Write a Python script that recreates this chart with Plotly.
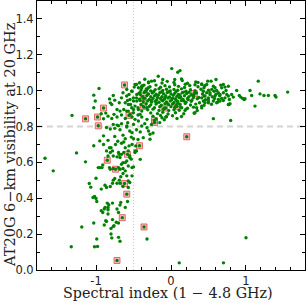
import plotly.graph_objects as go

# ---------------- data (spectral index, visibility) ----------------
outliers = [(-1.68, 0.623), (-1.57, 0.553), (-1.26, 0.653), (-1.14, 0.603), (-1.32, 0.862),
            (-1.33, 0.130), (-1.19, 0.240), (-1.03, 0.262), (-1.02, 0.130), (-0.99, 0.173),
            (-0.98, 0.131), (-1.09, 0.482), (-1.07, 0.462), (-1.04, 0.404), (-1.02, 0.410),
            (-1.00, 0.399), (-0.99, 0.382), (-1.00, 0.512), (-1.03, 0.693), (-0.32, 0.173),
            (0.11, 0.040), (0.70, 0.040), (1.00, 0.180)]

plume = [(-0.85, 0.373), (-0.83, 0.364), (-0.84, 0.349), (-0.84, 0.336), (-0.93, 0.330),
         (-0.91, 0.321), (-0.88, 0.349), (-0.84, 0.312), (-0.78, 0.373), (-0.68, 0.362),
         (-0.72, 0.340), (-0.70, 0.321), (-0.58, 0.382), (-0.89, 0.251), (-0.86, 0.271),
         (-0.80, 0.232), (-0.77, 0.243), (-0.78, 0.281), (-0.70, 0.262), (-0.80, 0.201),
         (-0.79, 0.179), (-0.70, 0.182), (-0.68, 0.160), (-0.84, 0.723), (-0.61, 0.732),
         (-0.63, 0.714), (-0.66, 0.707), (-0.50, 0.732), (-0.56, 0.692), (-0.57, 0.664),
         (-0.47, 0.692), (-0.46, 0.664), (-0.86, 0.664), (-0.81, 0.655), (-0.80, 0.682),
         (-0.84, 0.636), (-0.77, 0.636), (-0.69, 0.645), (-0.68, 0.627), (-0.66, 0.645),
         (-0.63, 0.655), (-0.59, 0.608), (-0.64, 0.599), (-0.61, 0.599), (-0.57, 0.580),
         (-0.52, 0.571), (-0.53, 0.618), (-0.50, 0.575), (-0.97, 0.571), (-0.95, 0.571),
         (-0.92, 0.571), (-0.82, 0.571), (-0.81, 0.562), (-0.77, 0.566), (-0.70, 0.571),
         (-0.68, 0.562), (-0.64, 0.566), (-0.88, 0.473), (-0.86, 0.460), (-0.81, 0.466),
         (-0.78, 0.484), (-0.75, 0.510), (-0.69, 0.501), (-0.68, 0.484), (-0.59, 0.525),
         (-0.57, 0.497), (-0.55, 0.488), (-0.57, 0.460), (-0.64, 0.466), (-0.78, 0.664),
         (-0.72, 0.631), (-0.70, 0.655), (-0.66, 0.590), (-0.61, 0.553), (-0.64, 0.538),
         (-0.55, 0.636), (-0.52, 0.525), (-0.48, 0.655), (-0.91, 0.586), (-0.93, 0.451),
         (-0.77, 0.501), (-0.72, 0.484), (-0.67, 0.520), (-0.87, 0.275), (-0.76, 0.247),
         (-0.73, 0.266), (-0.61, 0.349), (-0.67, 0.377), (-0.89, 0.340)]

band = [(-0.86, 0.795), (-0.81, 0.786), (-0.75, 0.790), (-0.70, 0.805), (-0.68, 0.782),
        (-0.59, 0.797), (-0.55, 0.775), (-0.52, 0.766), (-0.46, 0.782), (-0.41, 0.770),
        (-0.32, 0.793), (-0.28, 0.757), (-0.28, 0.729), (-0.30, 0.775), (-0.24, 0.764),
        (-0.82, 0.682), (-0.61, 0.682), (-0.55, 0.627), (-0.48, 0.664), (-0.41, 0.617),
        (-0.75, 0.745), (-0.64, 0.752), (-0.90, 0.748), (-0.95, 0.720), (-0.71, 0.718),
        (-0.53, 0.741), (-0.37, 0.738), (-0.44, 0.728), (-0.74, 0.700), (-0.52, 0.700),
        (-0.90, 0.700)]

shoulder = [(-0.35, 1.064), (-0.26, 1.053), (-0.17, 1.080), (-0.11, 1.062), (0.01, 1.123),
            (0.09, 1.103), (0.12, 1.112), (0.05, 1.062), (0.14, 1.066), (0.19, 1.036),
            (0.32, 1.033), (0.36, 1.046), (0.41, 1.037), (0.44, 1.016), (0.49, 1.053),
            (-0.48, 1.034), (-0.435, 1.016), (-0.39, 1.025), (-0.524, 0.997), (-0.457, 0.979),
            (-0.413, 0.990), (-0.346, 0.997), (-0.302, 1.016), (-0.591, 0.970), (-0.546, 0.951),
            (-0.502, 0.960), (-0.457, 0.942), (-0.413, 0.945), (-0.569, 0.923), (-0.524, 0.905),
            (-0.48, 0.914), (-0.435, 0.895), (-0.591, 0.886), (-0.546, 0.868), (-0.502, 0.877),
            (-0.413, 0.868), (-0.48, 0.840), (-0.435, 0.831), (-0.577, 0.821),
            (-0.96, 1.012), (-1.03, 0.975), (-1.01, 0.942), (-1.03, 0.905), (-0.81, 0.932),
            (-0.79, 0.923), (-0.77, 0.973), (-0.75, 0.947), (-0.69, 0.933), (-0.66, 0.960),
            (-0.64, 0.988), (-0.59, 1.007), (-0.56, 0.979), (-0.52, 0.997), (-0.49, 1.020),
            (-0.46, 1.034), (-0.42, 1.044), (-0.39, 1.016), (-0.36, 1.031), (-0.32, 1.007),
            (-0.30, 1.044), (-0.61, 0.933), (-0.58, 0.945), (-0.54, 0.923), (-0.50, 0.942),
            (-0.46, 0.960), (-0.41, 0.979), (-0.72, 0.895), (-0.68, 0.886), (-0.63, 0.895),
            (-0.57, 0.886), (-0.50, 0.895), (-0.44, 0.905), (-0.39, 0.886), (-0.32, 0.905),
            (-0.84, 0.858), (-0.79, 0.845), (-0.76, 0.868), (-0.72, 0.853), (-0.66, 0.864),
            (-0.61, 0.845), (-0.52, 0.853), (-0.44, 0.864), (-0.39, 0.853), (-0.32, 0.840),
            (-0.77, 0.812), (-0.72, 0.808), (-0.66, 0.816), (-0.59, 0.803), (-0.50, 0.812),
            (-0.39, 0.803), (-0.35, 0.816), (-0.93, 0.871), (-0.90, 0.843), (-0.87, 0.875),
            (-0.82, 0.954)]

core = [(-0.30, 1.048), (-0.22, 1.055), (-0.12, 1.043), (-0.05, 1.052), (0.04, 1.046),
        (0.15, 1.057), (0.22, 1.041), (0.33, 1.049),
        (-0.38, 1.027), (-0.28, 1.022), (-0.20, 1.031), (-0.14, 1.019), (-0.08, 1.028),
        (-0.02, 1.021), (0.05, 1.033), (0.10, 1.024), (0.18, 1.018), (0.25, 1.029),
        (0.36, 1.022), (0.45, 1.027),
        (-0.40, 1.004), (-0.33, 1.009), (-0.27, 0.999), (-0.21, 1.006), (-0.16, 1.011),
        (-0.11, 1.001), (-0.06, 1.008), (-0.01, 0.998), (0.04, 1.007), (0.09, 1.002),
        (0.14, 1.010), (0.20, 0.997), (0.26, 1.005), (0.32, 1.000), (0.40, 1.008),
        (0.50, 1.002),
        (-0.43, 0.984), (-0.36, 0.989), (-0.30, 0.981), (-0.25, 0.987), (-0.20, 0.980),
        (-0.15, 0.988), (-0.10, 0.983), (-0.05, 0.990), (0.00, 0.982), (0.05, 0.986),
        (0.10, 0.979), (0.15, 0.989), (0.21, 0.984), (0.27, 0.978), (0.34, 0.987),
        (0.42, 0.981), (0.52, 0.989), (0.60, 0.980),
        (-0.38, 0.968), (-0.32, 0.973), (-0.27, 0.966), (-0.22, 0.971), (-0.17, 0.975),
        (-0.12, 0.967), (-0.07, 0.972), (-0.02, 0.965), (0.03, 0.974), (0.08, 0.969),
        (0.13, 0.963), (0.18, 0.972), (0.24, 0.967), (0.30, 0.974), (0.37, 0.962),
        (0.44, 0.970), (0.55, 0.966), (0.65, 0.972),
        (-0.42, 0.953), (-0.35, 0.958), (-0.29, 0.951), (-0.24, 0.957), (-0.19, 0.950),
        (-0.14, 0.956), (-0.09, 0.952), (-0.04, 0.959), (0.01, 0.949), (0.06, 0.955),
        (0.11, 0.960), (0.16, 0.951), (0.22, 0.957), (0.28, 0.948), (0.35, 0.955),
        (0.46, 0.950), (0.58, 0.957),
        (-0.37, 0.938), (-0.31, 0.943), (-0.26, 0.936), (-0.21, 0.941), (-0.16, 0.935),
        (-0.11, 0.944), (-0.06, 0.937), (-0.01, 0.942), (0.04, 0.934), (0.09, 0.940),
        (0.14, 0.945), (0.20, 0.936), (0.27, 0.941), (0.38, 0.933), (0.50, 0.939),
        (0.62, 0.935),
        (-0.40, 0.923), (-0.33, 0.927), (-0.27, 0.921), (-0.20, 0.926), (-0.13, 0.919),
        (-0.08, 0.928), (-0.03, 0.922), (0.02, 0.926), (0.07, 0.918), (0.12, 0.924),
        (0.19, 0.929), (0.26, 0.920), (0.33, 0.925), (0.44, 0.918), (0.54, 0.924),
        (-0.36, 0.908), (-0.29, 0.912), (-0.22, 0.905), (-0.15, 0.910), (-0.07, 0.903),
        (0.00, 0.911), (0.05, 0.906), (0.13, 0.909), (0.22, 0.902), (0.30, 0.908),
        (0.41, 0.904),
        (-0.31, 0.893), (-0.24, 0.897), (-0.16, 0.890), (-0.10, 0.896), (-0.03, 0.889),
        (0.04, 0.894), (0.11, 0.891), (0.20, 0.897), (0.35, 0.889),
        (-0.27, 0.876), (-0.18, 0.872), (-0.11, 0.879), (-0.04, 0.870), (0.06, 0.877),
        (0.17, 0.871), (0.31, 0.875),
        (-0.24, 0.858), (-0.14, 0.862), (-0.06, 0.855), (0.02, 0.860), (0.14, 0.856),
        (-0.20, 0.842), (-0.09, 0.838), (0.08, 0.845),
        (-0.23, 0.995), (-0.13, 0.993), (-0.03, 0.994), (0.07, 0.996), (0.17, 0.992),
        (-0.18, 0.962), (-0.08, 0.961), (0.02, 0.958), (0.12, 0.976), (-0.26, 0.946),
        (-0.12, 0.947), (0.07, 0.946), (0.17, 0.943), (-0.19, 0.931), (-0.05, 0.930),
        (0.09, 0.931), (0.23, 0.950), (0.30, 0.962), (-0.33, 0.992), (0.24, 0.991),
        (-0.07, 0.853), (-0.12, 0.849), (0.31, 0.875), (-0.26, 0.812), (-0.15, 0.822)]

tail = [(0.565, 1.025), (0.587, 1.016), (0.543, 1.007), (0.574, 0.997), (0.609, 1.001),
        (0.631, 0.988), (0.654, 0.979), (0.698, 0.988), (0.734, 1.001), (0.743, 0.979),
        (0.765, 0.970), (0.809, 0.979), (0.831, 0.964), (0.778, 0.951), (0.720, 0.960),
        (0.676, 0.957), (0.631, 0.951), (0.587, 0.970), (0.520, 0.979), (0.476, 0.988),
        (0.431, 0.997), (0.454, 0.970), (0.498, 0.951), (0.409, 0.960), (0.431, 0.942),
        (0.498, 0.933), (0.565, 0.942), (0.654, 0.942), (0.698, 0.945), (0.609, 0.933),
        (0.787, 0.927), (0.765, 0.923), (0.476, 1.034), (0.409, 1.034), (0.600, 1.062),
        (0.534, 1.053), (0.663, 1.031), (0.698, 1.034), (0.676, 1.016), (0.720, 1.020),
        (0.765, 1.025), (0.876, 1.001), (0.911, 0.973), (0.929, 0.964), (0.956, 0.957),
        (0.987, 0.955), (0.974, 0.951), (1.054, 1.001), (1.076, 0.973), (1.164, 1.053),
        (1.187, 0.982), (1.240, 0.973), (1.298, 0.973), (1.387, 0.973), (1.400, 0.964),
        (1.556, 0.992), (1.120, 0.914), (0.565, 0.844), (0.796, 0.834), (0.773, 0.923),
        (0.498, 0.960), (0.453, 0.933), (0.409, 0.914), (0.342, 0.905), (0.320, 0.877),
        (0.187, 0.890), (0.142, 0.905)]

flagged = [(-1.14, 0.843), (-0.98, 0.853), (-0.97, 0.804), (-0.90, 0.903), (-0.62, 1.032),
           (-0.37, 0.958), (-0.37, 0.912), (-0.56, 0.862), (-0.22, 0.834), (-0.22, 0.822),
           (-0.42, 0.693), (-0.58, 0.645), (-0.09, 0.903), (0.08, 0.912), (0.31, 0.984),
           (0.21, 0.743), (-0.85, 0.612), (-0.74, 0.562), (-0.62, 0.482), (-0.59, 0.423),
           (-0.65, 0.292), (-0.36, 0.240), (-0.72, 0.053)]

REF_VISIBILITY = 0.8
REF_INDEX = -0.5
X_TICKS = [-1, 0, 1]
Y_TICKS = [0.0, 0.2, 0.4, 0.6, 0.8, 1.0, 1.2, 1.4]
X_TITLE = "Spectral index (1 − 4.8 GHz)"
Y_TITLE = "AT20G 6−km visibility at 20 GHz"

green = outliers + plume + band + shoulder + core + tail + flagged
gx = [p[0] for p in green]
gy = [p[1] for p in green]
fx = [p[0] for p in flagged]
fy = [p[1] for p in flagged]

fig = go.Figure()
fig.add_hline(y=REF_VISIBILITY, line=dict(color="#d4d4d4", width=2, dash="6px,4px"), layer="below")
fig.add_vline(x=REF_INDEX, line=dict(color="#c8c8c8", width=1, dash="1px,2px"), layer="below")
fig.add_trace(go.Scatter(x=fx, y=fy, mode="markers",
                         marker=dict(symbol="square", size=6, color="rgba(240,120,120,0.5)",
                                     line=dict(color="rgba(225,70,70,0.75)", width=1))))
fig.add_trace(go.Scatter(x=gx, y=gy, mode="markers",
                         marker=dict(size=3.4, color="#008000", line=dict(width=0))))

axis_common = dict(showline=True, linecolor="black", linewidth=1, mirror="ticks",
                   ticks="inside", ticklen=5, tickcolor="black", showgrid=False,
                   zeroline=False, automargin=False,
                   tickfont=dict(family="DejaVu Sans", size=11.5, color="#222"))
fig.update_xaxes(range=[-1.787, 1.787], tickvals=X_TICKS, ticktext=["-1", "0", "1"],
                 minor=dict(dtick=0.2, tick0=0, ticks="inside", ticklen=3, tickcolor="black"),
                 **axis_common)
fig.update_yaxes(range=[0, 1.5], tickvals=Y_TICKS, tickformat=".1f",
                 minor=dict(dtick=0.1, tick0=0, ticks="inside", ticklen=3, tickcolor="black"),
                 **axis_common)
fig.add_annotation(text=X_TITLE, xref="paper", yref="paper", x=0.49, y=0, yshift=-23,
                   xanchor="center", yanchor="middle", showarrow=False,
                   font=dict(family="DejaVu Serif", size=14.3, color="#222"))
fig.add_annotation(text=Y_TITLE, xref="paper", yref="paper", x=0, y=0.465, xshift=-27,
                   xanchor="center", yanchor="middle", textangle=-90, showarrow=False,
                   font=dict(family="DejaVu Serif", size=14.5, color="#222"))
fig.update_layout(width=307, height=303, margin=dict(l=37, r=2, t=1, b=33),
                  paper_bgcolor="white", plot_bgcolor="white", showlegend=False)
fig.write_html("out.html", config={"displayModeBar": False},
               post_script="document.body.style.margin='0';")
